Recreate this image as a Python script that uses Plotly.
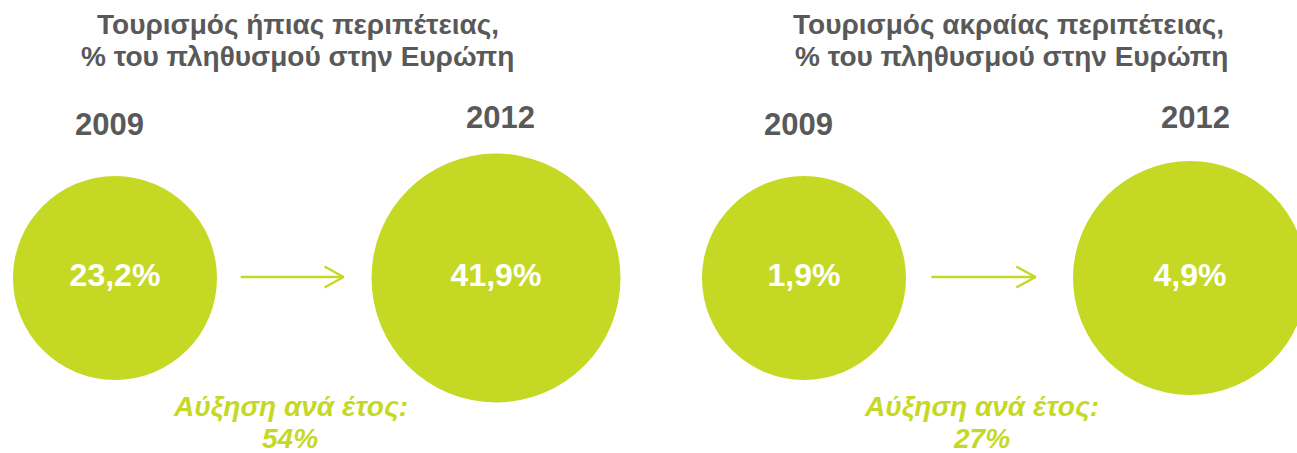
import plotly.graph_objects as go

# Adventure tourism, share of the European population
years = ["2009", "2012"]
soft_values = [23.2, 41.9]      # ήπιας περιπέτειας
extreme_values = [1.9, 4.9]     # ακραίας περιπέτειας
growth = [54, 27]               # annual growth, %
title_lines = [
    ["Τουρισμός ήπιας περιπέτειας,", "% του πληθυσμού στην Ευρώπη"],
    ["Τουρισμός ακραίας περιπέτειας,", "% του πληθυσμού στην Ευρώπη"],
]
growth_label = "Αύξηση ανά έτος:"

GREEN = "#C5D924"
GREY = "#595959"
FONT = "Liberation Sans, Arial, sans-serif"

# bubble diameters (px) per panel
bubble_sizes = [[204, 249], [204, 234]]


def pct(v):
    return f"{v:.1f}".replace(".", ",") + "%"


fig = go.Figure()
xs = list(range(len(years)))
panels = [("x", soft_values), ("x2", extreme_values)]

for i, (xref, vals) in enumerate(panels):
    fig.add_trace(go.Scatter(
        x=xs, y=[0] * len(vals), xaxis=xref, yaxis="y",
        mode="markers+text",
        marker=dict(size=bubble_sizes[i], color=GREEN, line=dict(width=0), opacity=1),
        text=[pct(v) for v in vals],
        textposition="middle center",
        textfont=dict(family=FONT, size=32, color="white", weight="bold"),
        hoverinfo="skip", showlegend=False, cliponaxis=False,
    ))
    # arrow between the two years
    x0, x1, back, half = 0.33, 0.60, 0.05, 10.5
    fig.add_trace(go.Scatter(
        x=[x0, x1, None, x1 - back, x1, x1 - back], y=[1, 1, None, 1 + half, 1, 1 - half],
        xaxis=xref, yaxis="y", mode="lines",
        line=dict(color=GREEN, width=2.5),
        hoverinfo="skip", showlegend=False,
    ))

    # year labels
    for j, yr in enumerate(years):
        fig.add_annotation(
            x=xs[j], y=154 if j == 0 else 161, xref=xref, yref="y",
            xshift=(-5 if j == 0 else 5),
            text=f"<b>{yr}</b>", showarrow=False,
            font=dict(family=FONT, size=31, color=GREY),
        )
    # panel title, one annotation per line
    tx = 0.48 if i == 0 else 0.53
    for k, (line, ty) in enumerate(zip(title_lines[i], [254, 222])):
        fig.add_annotation(
            x=tx, y=ty, xref=xref, yref="y", yanchor="middle",
            xshift=(3 if (i == 1 and k == 1) else 0),
            text=f"<b>{line}</b>", showarrow=False,
            font=dict(family=FONT, size=28, color=GREY),
        )
    # growth note
    for line, gy in zip([growth_label, f"{growth[i]}%"], [-128, -160]):
        fig.add_annotation(
            x=0.46, y=gy, xref=xref, yref="y", yanchor="middle",
            text=f"<b><i>{line}</i></b>", showarrow=False,
            font=dict(family=FONT, size=28, color=GREEN),
        )

fig.update_layout(
    width=1297, height=453,
    margin=dict(l=0, r=0, t=0, b=0),
    paper_bgcolor="white", plot_bgcolor="white",
    xaxis=dict(domain=[0, 0.5], range=[-0.3018, 1.4003], visible=False, fixedrange=True),
    xaxis2=dict(domain=[0.5, 1], range=[-0.4028, 1.2772], visible=False, anchor="y", fixedrange=True),
    yaxis=dict(domain=[0, 1], range=[-175, 278], visible=False, fixedrange=True),
)

fig.write_html("out.html")
